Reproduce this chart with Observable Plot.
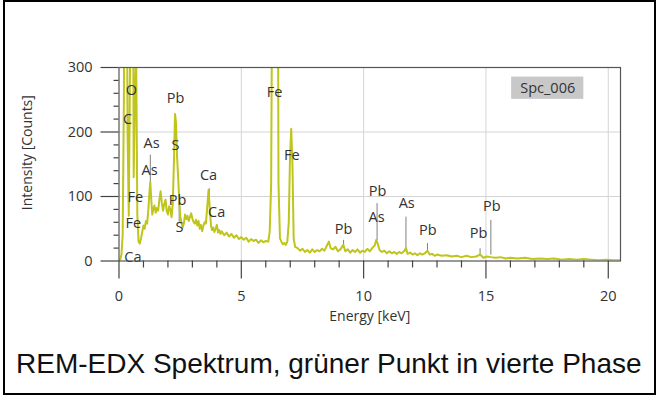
<!DOCTYPE html>
<html>
<head>
<meta charset="utf-8">
<script src="https://cdn.jsdelivr.net/npm/d3@7"></script>
<script src="https://cdn.jsdelivr.net/npm/@observablehq/plot@0.6"></script>
<style>
  html, body { margin: 0; padding: 0; background: #fff; }
  #page { position: relative; width: 658px; height: 398px; overflow: hidden; background: #fff; }
  #border { position: absolute; left: 3px; top: 0px; width: 653px; height: 395px; border: 2px solid #000; box-sizing: border-box; }
  #chart { position: absolute; left: 0; top: 0; }
  #caption { position: absolute; left: 16px; top: 350px; font-family: "Liberation Sans", Arial, sans-serif; font-size: 28px; line-height: 28px; color: #111; white-space: nowrap; }
</style>
</head>
<body>
<div id="page">
  <div id="chart"></div>
  <div id="border"></div>
  <div id="caption">REM-EDX Spektrum, grüner Punkt in vierte Phase</div>
</div>
<script>
// Spectrum (energy in keV, intensity in counts)
const energy = [
  0.00, 0.05, 0.10, 0.15, 0.20, 0.25, 0.30, 0.35, 0.40, 0.45, 0.50, 0.55, 0.60, 0.65, 0.70, 0.75,
  0.80, 0.85, 0.90, 0.95, 1.00, 1.05, 1.10, 1.15, 1.20, 1.25, 1.28, 1.32, 1.36, 1.40, 1.45, 1.50,
  1.55, 1.60, 1.65, 1.70, 1.75, 1.80, 1.85, 1.90, 1.95, 2.00, 2.05, 2.10, 2.15, 2.20, 2.25, 2.29,
  2.33, 2.37, 2.41, 2.45, 2.50, 2.55, 2.60, 2.65, 2.70, 2.75, 2.80, 2.85, 2.90, 2.95, 3.00, 3.05,
  3.10, 3.15, 3.20, 3.25, 3.30, 3.35, 3.40, 3.45, 3.50, 3.55, 3.60, 3.66, 3.71, 3.76, 3.80, 3.85,
  3.90, 3.95, 4.00, 4.05, 4.10, 4.15, 4.20, 4.30, 4.40, 4.50, 4.60, 4.70, 4.80, 4.90, 5.00, 5.10,
  5.20, 5.30, 5.40, 5.50, 5.60, 5.70, 5.80, 5.90, 6.00, 6.10, 6.16, 6.22, 6.28, 6.34, 6.40, 6.46,
  6.52, 6.58, 6.64, 6.70, 6.76, 6.82, 6.88, 6.94, 6.99, 7.04, 7.09, 7.14, 7.20, 7.30, 7.40, 7.50,
  7.60, 7.70, 7.80, 7.90, 8.00, 8.10, 8.20, 8.30, 8.40, 8.50, 8.58, 8.65, 8.75, 8.85, 8.95, 9.05,
  9.17, 9.25, 9.35, 9.45, 9.55, 9.65, 9.75, 9.85, 9.95, 10.05, 10.15, 10.25, 10.35, 10.45, 10.52, 10.58,
  10.65, 10.75, 10.85, 10.95, 11.05, 11.15, 11.25, 11.35, 11.45, 11.55, 11.65, 11.73, 11.80, 11.90, 12.00, 12.10,
  12.20, 12.30, 12.40, 12.50, 12.61, 12.70, 12.80, 12.90, 13.00, 13.20, 13.40, 13.60, 13.80, 14.00, 14.20, 14.40,
  14.60, 14.76, 14.90, 15.05, 15.20, 15.40, 15.60, 15.80, 16.00, 16.30, 16.60, 16.90, 17.20, 17.50, 17.80, 18.10,
  18.40, 18.70, 19.00, 19.30, 19.60, 19.90, 20.20, 20.50
];
const counts = [
  0, 2, 10, 40, 250, 700, 650, 200, 70, 300, 900, 800, 130, 250, 330, 70,
  30, 27, 35, 45, 55, 50, 62, 58, 80, 110, 122, 95, 72, 80, 86, 75,
  82, 78, 95, 108, 90, 78, 88, 95, 78, 72, 85, 80, 68, 90, 160, 228,
  215, 165, 135, 105, 70, 60, 52, 58, 72, 65, 70, 62, 68, 74, 66, 60,
  58, 64, 55, 62, 50, 56, 46, 55, 60, 58, 80, 110, 82, 55, 48, 52,
  45, 50, 56, 44, 48, 42, 46, 40, 44, 38, 42, 36, 40, 34, 37, 33,
  36, 30, 34, 31, 33, 28, 32, 29, 31, 30, 45, 120, 600, 1400, 1800, 900,
  120, 35, 30, 26, 28, 25, 30, 60, 160, 205, 150, 35, 22, 20, 16, 19,
  14, 17, 13, 18, 14, 17, 15, 19, 16, 24, 30, 20, 18, 22, 15, 18,
  25, 15, 18, 13, 17, 14, 18, 13, 16, 14, 19, 15, 20, 24, 33, 26,
  17, 14, 16, 12, 15, 12, 14, 11, 14, 12, 15, 20, 11, 13, 10, 12,
  9, 12, 10, 12, 16, 10, 11, 8, 10, 8, 9, 7, 8, 6, 8, 6,
  7, 10, 5, 7, 6, 5, 6, 4, 5, 4, 5, 3, 4, 3, 4, 2,
  3, 2, 3, 2, 1, 2, 1, 1
];

// Element line labels
const labelNames  = ["O", "C", "Fe", "Fe", "Ca", "As", "As", "Pb", "S", "Pb", "S", "Ca", "Ca", "Fe", "Fe", "Pb", "Pb", "As", "As", "Pb", "Pb", "Pb"];
const labelEnergy = [0.51, 0.35, 0.67, 0.59, 0.57, 1.33, 1.25, 2.31, 2.31, 2.39, 2.47, 3.66, 3.99, 6.36, 7.06, 9.18, 10.57, 10.53, 11.76, 12.62, 14.70, 15.24];
const labelCounts = [265, 219, 98, 58, 5, 182, 140, 252, 179, 94, 52, 133, 75, 261, 164, 49, 108, 67, 89, 47, 43, 85];

// Thin marker lines at element energies
const markerEnergy = [1.28, 2.46, 3.69, 9.18, 10.55, 11.73, 12.61, 14.76, 15.20];
const markerLow    = [113, 60, 89, 20, 32, 14, 15, 9, 9];
const markerHigh   = [164, 100, 112, 32, 89, 68, 27, 19, 63];

// Axis ticks
const xMajor = [0, 5, 10, 15, 20];
const xMinor = [1, 2, 3, 4, 6, 7, 8, 9, 11, 12, 13, 14, 16, 17, 18, 19];
const yMajor = [0, 100, 200, 300];
const yMinor = [20, 40, 60, 80, 120, 140, 160, 180, 220, 240, 260, 280];
const xGrid = [5, 10, 15, 20];
const yGrid = [100, 200];

// Spectrum name tag
const tagName = ["Spc_006"];
const tagBox = [{x1: 16.05, x2: 19.0, y1: 250.6, y2: 285.2}];

const spectrum = energy.map((e, i) => ({e, c: counts[i]}));
const labels = labelNames.map((n, i) => ({n, e: labelEnergy[i], c: labelCounts[i]}));
const markers = markerEnergy.map((e, i) => ({e, lo: markerLow[i], hi: markerHigh[i]}));

const font = "'Open Sans', 'Noto Sans', sans-serif";
const axisColor = "#444";

const chart = Plot.plot({
  width: 658,
  height: 340,
  marginLeft: 118.5,
  marginRight: 38,
  marginTop: 67,
  marginBottom: 79.5,
  style: {fontFamily: font, background: "transparent", overflow: "visible"},
  x: {domain: [0, 20.5], axis: null},
  y: {domain: [0, 300], axis: null},
  marks: [
    Plot.gridX(xGrid, {stroke: "#d4d4d4", strokeOpacity: 1}),
    Plot.gridY(yGrid, {stroke: "#d4d4d4", strokeOpacity: 1}),
    Plot.rect(tagBox, {x1: "x1", x2: "x2", y1: "y1", y2: "y2", fill: "#c8c8c8"}),
    Plot.text(tagName, {x: (tagBox[0].x1 + tagBox[0].x2) / 2, y: (tagBox[0].y1 + tagBox[0].y2) / 2, text: d => d, fontSize: 14.5, fill: "#333"}),
    Plot.ruleX(markers, {x: "e", y1: "lo", y2: "hi", stroke: "#808080", strokeWidth: 1}),
    Plot.line(spectrum, {x: "e", y: "c", stroke: "#bfc51a", strokeWidth: 2, clip: true, curve: "linear"}),
    Plot.text(labels, {x: "e", y: "c", text: "n", fontSize: 14.5, fill: "#333"}),
    Plot.frame({stroke: "#555", strokeWidth: 1.2}),
    // x ticks (below the axis)
    Plot.ruleX(xMajor, {x: d => d, y1: 0, y2: 0, insetBottom: -18, stroke: axisColor, strokeWidth: 1.2}),
    Plot.ruleX(xMinor, {x: d => d, y1: 0, y2: 0, insetBottom: -7, stroke: axisColor, strokeWidth: 1.2}),
    // y ticks (left of the axis)
    Plot.ruleY(yMajor, {y: d => d, x1: 0, x2: 0, insetLeft: -18, stroke: axisColor, strokeWidth: 1.2}),
    Plot.ruleY(yMinor, {y: d => d, x1: 0, x2: 0, insetLeft: -5, stroke: axisColor, strokeWidth: 1.2}),
    Plot.text(xMajor, {x: d => d, y: 0, dy: 35, text: d => String(d), fontSize: 14.5, fill: "#333"}),
    Plot.text(yMajor, {x: 0, y: d => d, dx: -26.5, textAnchor: "end", text: d => String(d), fontSize: 14.5, fill: "#333"}),
    Plot.text(["Energy [keV]"], {frameAnchor: "bottom", dy: 60, text: d => d, fontSize: 14, fill: "#333"}),
    Plot.text(["Intensity [Counts]"], {x: 0, y: 168, dx: -91.5, rotate: -90, text: d => d, fontSize: 14, fill: "#333"})
  ]
});
document.getElementById("chart").appendChild(chart);
</script>
</body>
</html>
